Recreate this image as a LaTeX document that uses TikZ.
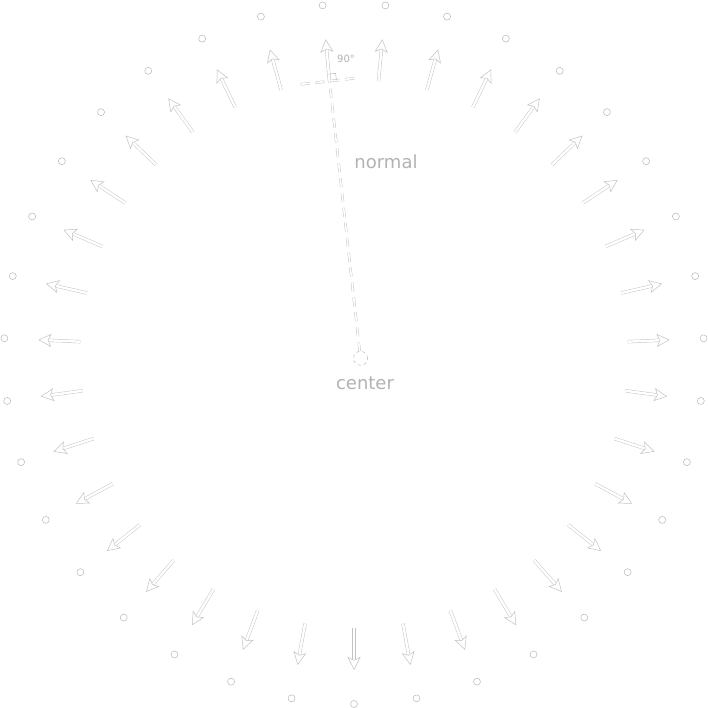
\documentclass[tikz,border=0pt]{standalone}
\usepackage{fontspec}
\newfontfamily\lblfont{DejaVu Sans}
\usetikzlibrary{arrows.meta,calc}
\begin{document}
\begin{tikzpicture}[x=1pt,y=1pt,
  ghost/.style={draw=black!24, line width=0.45pt, double=white, double distance=2.4pt},
  dotmark/.style={circle, draw=black!28, fill=white, line width=0.5pt, minimum size=7pt, inner sep=0pt},
  normalarrow/.style={ghost, -{Stealth[open, fill=white, length=13pt, width=13pt, inset=3pt, line width=0.5pt]}},
  ghostdash/.style={ghost, double distance=1.6pt, dash pattern=on 9pt off 6pt},
  centermark/.style={circle, draw=black!28, dashed, line width=0.5pt, minimum size=14pt, inner sep=0pt},
  lbl/.style={text=black!30, font=\lblfont\fontsize{18}{20}\selectfont, inner sep=0pt},
  smalllbl/.style={text=black!30, font=\lblfont\fontsize{10}{11}\selectfont, inner sep=0pt}
]
\useasboundingbox (0,0) rectangle (708,708);
\coordinate (O) at (354,354);
\foreach \k in {0,...,34}{
  \pgfmathsetmacro\ang{270+\k*360/35}
  \coordinate (b\k) at ($(O)+(\ang:274)$);
  \coordinate (t\k) at ($(O)+(\ang:316)$);
  \node[dotmark] (d\k) at ($(O)+(\ang:350)$) {};
  \draw[normalarrow] (b\k) -- (t\k);
}
\node[centermark] (C) at (360.5,349.7) {};
\node[lbl] (clabel) at (365,325) {center};
\draw[ghostdash] (C) -- (b18);
\coordinate (tl) at ($(b18)!29pt!-90:(C)$);
\coordinate (tr) at ($(b18)!29pt!90:(C)$);
\draw[ghostdash] (tl) -- (tr);
\coordinate (p1) at ($(b18)!7pt!90:(C)$);
\coordinate (p3) at ($(b18)!-7pt!(C)$);
\coordinate (p2) at ($(p1)+(p3)-(b18)$);
\draw[draw=black!28, line width=0.5pt] (p1) -- (p2) -- (p3);
\node[smalllbl] (alabel) at (346,649) {90°};
\node[lbl] (nlabel) at (386,546) {normal};
\end{tikzpicture}
\end{document}
